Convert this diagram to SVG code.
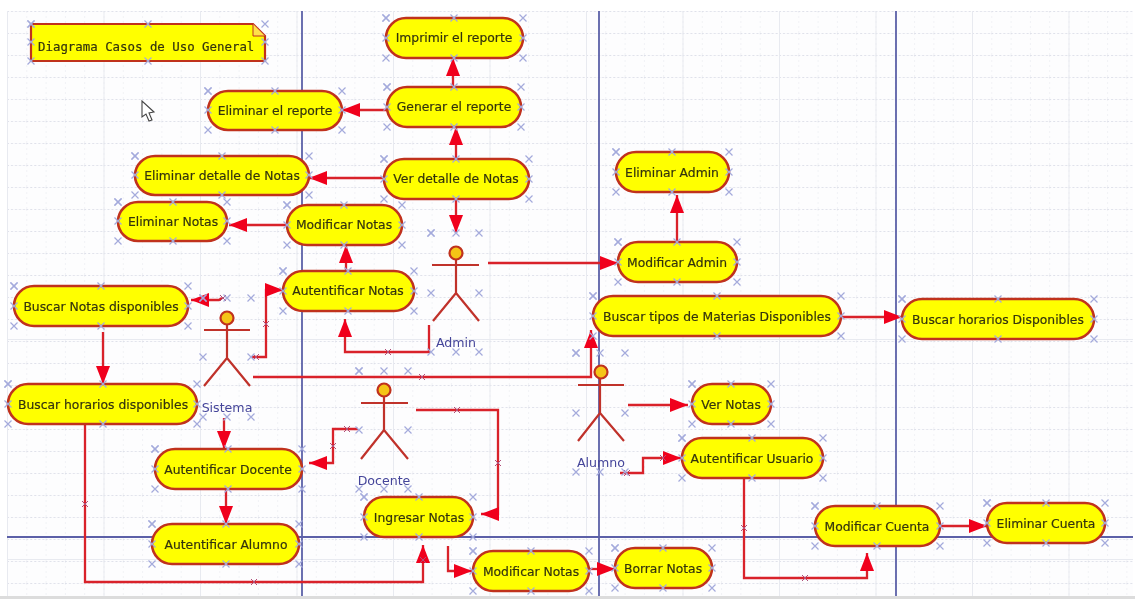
<svg xmlns="http://www.w3.org/2000/svg" width="1135" height="599" viewBox="0 0 1135 599">
<style>
text{font-family:"DejaVu Sans",sans-serif;font-size:12.35px;fill:#34340c;stroke:#34340c;stroke-width:.2;text-anchor:middle}
.uc{fill:#ffff00;stroke:#c0301f;stroke-width:2.6}
.h{fill:none;stroke:none;marker-start:url(#x);marker-mid:url(#x);marker-end:url(#x)}
.t{fill:none;stroke:none;marker-start:url(#k);marker-mid:url(#k);marker-end:url(#k)}
.c{fill:none;stroke:#d9202c;stroke-width:2.3;marker-end:url(#a)}
.ax{stroke:#5c60a8;stroke-width:1.8;fill:none}
.act{fill:none;stroke:#c0302a;stroke-width:2.2}
.hd{fill:#f5c518;stroke:#c0301f;stroke-width:2.2}
text.al{fill:#45459a;stroke:none;font-size:12.6px}
</style>
<defs>
<marker id="x" markerUnits="userSpaceOnUse" markerWidth="10" markerHeight="10" refX="5" refY="5" orient="0"><path d="M1.5 1.5L8.5 8.5M8.5 1.5L1.5 8.5" stroke="#a4aadc" stroke-width="1.2" fill="none"/></marker>
<marker id="k" markerUnits="userSpaceOnUse" markerWidth="10" markerHeight="10" refX="5" refY="5" orient="0"><path d="M2 2L8 8M8 2L2 8" stroke="#b0507a" stroke-width="1" fill="none"/></marker>
<marker id="a" markerUnits="userSpaceOnUse" markerWidth="20" markerHeight="15" refX="18" refY="7.5" orient="auto"><path d="M0 0.5L18 7.5L0 14.5Z" fill="#f0001c"/></marker>
<pattern id="gd" patternUnits="userSpaceOnUse" x="7" y="11" width="19.3" height="22"><path d="M0 0V22" stroke="#e6e8ee" stroke-width="1" stroke-dasharray="2 3" fill="none"/><path d="M0 .5H19.3" stroke="#dfe1ea" stroke-width="1" stroke-dasharray="2 2" fill="none"/></pattern>
<pattern id="gs" patternUnits="userSpaceOnUse" x="7" y="9" width="96.5" height="110"><path d="M.5 0V110" stroke="#e8eaf0" stroke-width="1" fill="none"/><path d="M0 .5H96.5" stroke="#e8eaf0" stroke-width="1" fill="none"/></pattern>
<filter id="b" x="0" y="0" width="100%" height="100%"><feGaussianBlur stdDeviation="0.55"/></filter>
</defs>
<rect width="1135" height="599" fill="#fff"/>
<g filter="url(#b)">
<g id="grid">
<rect x="7" y="11" width="1126" height="585" fill="#fdfdfe"/>
<rect x="7" y="11" width="1126" height="585" fill="url(#gd)"/>
<rect x="7" y="11" width="1126" height="585" fill="url(#gs)"/>
<rect x="0" y="596" width="1135" height="3" fill="#dcdcdc"/>
<path class="ax" d="M302 11V596M599 11V596M896 11V596M7 537H1133"/>
<path d="M142 101V117L146 114L149 121L152 120L149 113L154 112Z" fill="#fff" stroke="#444" stroke-width="1.1"/>
</g>
<g id="connectors">
<path class="c" d="M453 87V58"/>
<path class="c" d="M456 159V127"/>
<path class="c" d="M387 110H342"/>
<path class="c" d="M384 178H309"/>
<path class="c" d="M456 199V233"/>
<path class="c" d="M287 225H229"/>
<path class="c" d="M346 271V245"/>
<path class="c" d="M429 325V352H345V319"/>
<path class="c" d="M488 263H618"/>
<path class="c" d="M677 242V195"/>
<path class="c" d="M841 317H902"/>
<path class="c" d="M253 377H591V330"/>
<path class="c" d="M222 298L219 300H191"/>
<path class="c" d="M252 357H266V290H283"/>
<path class="c" d="M103 332V384"/>
<path class="c" d="M224 418V449"/>
<path class="c" d="M226 489V524"/>
<path class="c" d="M85 424V582H423V545"/>
<path class="c" d="M358 429H333V463H309"/>
<path class="c" d="M416 410H498V514H481"/>
<path class="c" d="M448 546V571H472"/>
<path class="c" d="M589 569H615"/>
<path class="c" d="M628 405H688"/>
<path class="c" d="M620 473H643V458H681"/>
<path class="c" d="M744 478V578H867V553"/>
<path class="c" d="M939 526H987"/>
<path class="t" d="M223 298M266 324M256 357M388 352M422 377M85 504M254 582M347 429M333 446M457 410M498 463M423 560M627 473M663 458M744 528M805 578"/>
</g>
<g id="note"><path d="M31 24H253L265 36V61H31Z" fill="#ffff00" stroke="#c0301f" stroke-width="2.2"/><path d="M253 24V36H265" fill="#ffe14a" stroke="#c0301f" stroke-width="1"/><text x="38" y="51" style="font-family:'DejaVu Sans Mono',monospace;font-size:12.4px;text-anchor:start">Diagrama Casos de Uso General</text><path class="h" d="M31 24H148H265V42V61H148H31V42Z"/></g>
<g id="n1"><rect class="uc" x="386" y="18" width="137" height="40" rx="20"/><text x="454" y="42">Imprimir el reporte</text><path class="h" d="M386 18H454H523V38V58H454H386V38Z"/></g>
<g id="n2"><rect class="uc" x="387" y="87" width="134" height="40" rx="20"/><text x="454" y="111">Generar el reporte</text><path class="h" d="M387 87H454H521V107V127H454H387V107Z"/></g>
<g id="n3"><rect class="uc" x="384" y="159" width="145" height="40" rx="20"/><text x="456" y="183">Ver detalle de Notas</text><path class="h" d="M384 159H456H529V179V199H456H384V179Z"/></g>
<g id="n4"><rect class="uc" x="208" y="91" width="134" height="39" rx="20"/><text x="275" y="115">Eliminar el reporte</text><path class="h" d="M208 91H275H342V110V130H275H208V110Z"/></g>
<g id="n5"><rect class="uc" x="135" y="156" width="174" height="39" rx="20"/><text x="222" y="180">Eliminar detalle de Notas</text><path class="h" d="M135 156H222H309V175V195H222H135V175Z"/></g>
<g id="n6"><rect class="uc" x="118" y="202" width="109" height="39" rx="20"/><text x="173" y="226">Eliminar Notas</text><path class="h" d="M118 202H173H227V221V241H173H118V221Z"/></g>
<g id="n7"><rect class="uc" x="287" y="205" width="115" height="40" rx="20"/><text x="344" y="229">Modificar Notas</text><path class="h" d="M287 205H344H402V225V245H344H287V225Z"/></g>
<g id="n8"><rect class="uc" x="283" y="271" width="131" height="40" rx="20"/><text x="348" y="295">Autentificar Notas</text><path class="h" d="M283 271H348H414V291V311H348H283V291Z"/></g>
<g id="n9"><rect class="uc" x="14" y="286" width="174" height="40" rx="20"/><text x="101" y="311">Buscar Notas disponibles</text><path class="h" d="M14 286H101H188V306V326H101H14V306Z"/></g>
<g id="n10"><rect class="uc" x="8" y="384" width="189" height="40" rx="20"/><text x="103" y="409">Buscar horarios disponibles</text><path class="h" d="M8 384H103H197V404V424H103H8V404Z"/></g>
<g id="n11"><rect class="uc" x="155" y="449" width="147" height="40" rx="20"/><text x="228" y="474">Autentificar Docente</text><path class="h" d="M155 449H228H302V469V489H228H155V469Z"/></g>
<g id="n12"><rect class="uc" x="152" y="524" width="147" height="40" rx="20"/><text x="226" y="549">Autentificar Alumno</text><path class="h" d="M152 524H226H299V544V564H226H152V544Z"/></g>
<g id="n13"><rect class="uc" x="364" y="497" width="109" height="40" rx="20"/><text x="419" y="522">Ingresar Notas</text><path class="h" d="M364 497H419H473V517V537H419H364V517Z"/></g>
<g id="n14"><rect class="uc" x="473" y="551" width="116" height="40" rx="20"/><text x="531" y="576">Modificar Notas</text><path class="h" d="M473 551H531H589V571V591H531H473V571Z"/></g>
<g id="n15"><rect class="uc" x="615" y="548" width="97" height="40" rx="20"/><text x="663" y="573">Borrar Notas</text><path class="h" d="M615 548H663H712V568V588H663H615V568Z"/></g>
<g id="n16"><rect class="uc" x="692" y="384" width="79" height="40" rx="20"/><text x="731" y="409">Ver Notas</text><path class="h" d="M692 384H731H771V404V424H731H692V404Z"/></g>
<g id="n17"><rect class="uc" x="682" y="438" width="141" height="40" rx="20"/><text x="752" y="463">Autentificar Usuario</text><path class="h" d="M682 438H752H823V458V478H752H682V458Z"/></g>
<g id="n18"><rect class="uc" x="815" y="506" width="125" height="40" rx="20"/><text x="877" y="531">Modificar Cuenta</text><path class="h" d="M815 506H877H940V526V546H877H815V526Z"/></g>
<g id="n19"><rect class="uc" x="987" y="503" width="118" height="40" rx="20"/><text x="1046" y="528">Eliminar Cuenta</text><path class="h" d="M987 503H1046H1105V523V543H1046H987V523Z"/></g>
<g id="n20"><rect class="uc" x="902" y="299" width="192" height="40" rx="20"/><text x="998" y="324">Buscar horarios Disponibles</text><path class="h" d="M902 299H998H1094V319V339H998H902V319Z"/></g>
<g id="n21"><rect class="uc" x="593" y="296" width="248" height="40" rx="20"/><text x="717" y="321">Buscar tipos de Materias Disponibles</text><path class="h" d="M593 296H717H841V316V336H717H593V316Z"/></g>
<g id="n22"><rect class="uc" x="618" y="242" width="119" height="40" rx="20"/><text x="677" y="267">Modificar Admin</text><path class="h" d="M618 242H677H737V262V282H677H618V262Z"/></g>
<g id="n23"><rect class="uc" x="616" y="152" width="113" height="40" rx="20"/><text x="672" y="177">Eliminar Admin</text><path class="h" d="M616 152H672H729V172V192H672H616V172Z"/></g>
<g id="actor-admin"><path class="act" d="M456 260V293M432 265H479M433 321L456 293L479 321"/><circle class="hd" cx="456" cy="253" r="6.5"/><text class="al" x="456" y="347">Admin</text><path class="h" d="M431 233H456H479V293V352H456H431V293Z"/></g>
<g id="actor-sistema"><path class="act" d="M227 325V358M204 330H250M204 386L227 358L250 386"/><circle class="hd" cx="227" cy="318" r="6.5"/><text class="al" x="227" y="412">Sistema</text><path class="h" d="M203 298H227H251V357V417H227H203V357Z"/></g>
<g id="actor-docente"><path class="act" d="M384 397V430M361 403H408M361 459L384 430L408 459"/><circle class="hd" cx="384" cy="390" r="6.5"/><text class="al" x="384" y="485">Docente</text><path class="h" d="M359 371H384H408V430V489H384H359V430Z"/></g>
<g id="actor-alumno"><path class="act" d="M600 379V413M578 385H624M578 441L600 413L624 441"/><circle class="hd" cx="601" cy="372" r="6.5"/><text class="al" x="601" y="467">Alumno</text><path class="h" d="M576 353H600H625V413V472H600H576V413Z"/></g>
</g>
</svg>
